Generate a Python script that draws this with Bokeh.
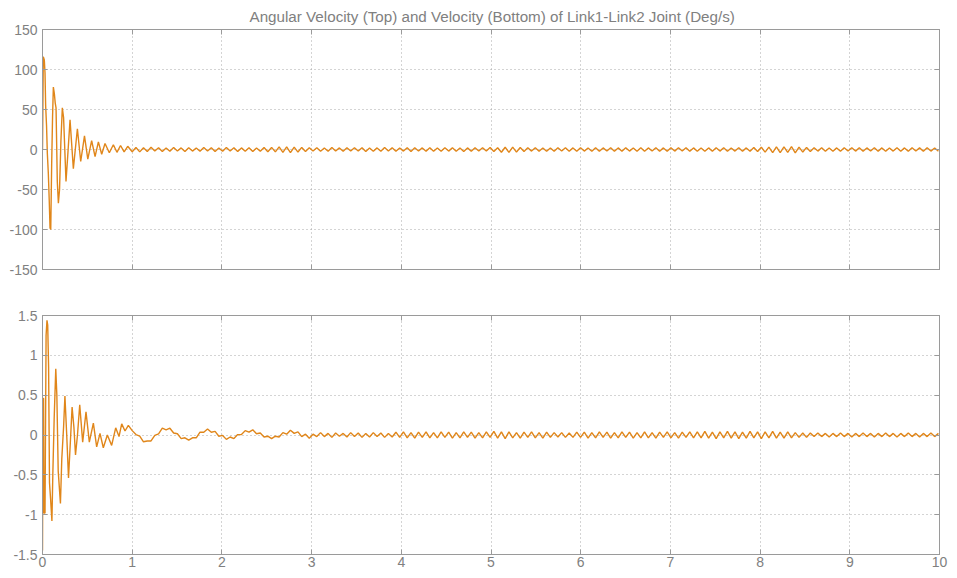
import numpy as np
from bokeh.plotting import figure
from bokeh.layouts import column
from bokeh.models import LinearAxis, FixedTicker, CustomJSTickFormatter, Range1d
from bokeh.embed import file_html
from bokeh.resources import INLINE

title_text = "Angular Velocity (Top) and Velocity (Bottom) of Link1-Link2 Joint (Deg/s)"
x_ticks = [0, 1, 2, 3, 4, 5, 6, 7, 8, 9, 10]
top_y_ticks = [-150, -100, -50, 0, 50, 100, 150]
bot_y_ticks = [-1.5, -1, -0.5, 0, 0.5, 1, 1.5]

# Angular velocity (deg/s): transient turning points
top_transient_t = [0.0, 0.004, 0.009, 0.02, 0.028, 0.035, 0.045, 0.054, 0.065, 0.075, 0.084, 0.092,
                   0.102, 0.112, 0.121, 0.132, 0.142, 0.151, 0.165, 0.177, 0.19, 0.205, 0.221, 0.235,
                   0.262, 0.28, 0.307, 0.344, 0.389, 0.426, 0.468, 0.505, 0.548, 0.586, 0.623, 0.660,
                   0.697, 0.745, 0.790, 0.83, 0.87, 0.91, 0.95]
top_transient_v = [0, 50, 116, 112, 96, 55, 30, -5, -30, -63, -98, -100,
                   -20, 40, 78, 70, 58, 52, -40, -67, -50, 10, 52, 40,
                   -40, -10, 37, -24, 26, -15, 17, -12, 11, -9, 9.5, -6,
                   7.5, -4, 6, -3.5, 5, -3, 4]
# steady-state ripple, one value every 0.042 s from t = 1.0
ripple_dt = 0.042
ripple_t0 = 1.0
top_ripple_v = [
    -2.8, 2.5, -3.0, 2.2, -2.4, 2.8, -2.0, 2.3, -2.6, 1.9,
    -2.2, 2.6, -1.8, 2.0, -2.5, 2.2, -2.0, 1.8, -2.3, 2.4,
    -1.9, 2.1, -2.4, 2.0, -2.2, 2.5, -1.8, 2.2, -2.6, 2.0,
    -2.1, 2.3, -2.5, 1.9, -2.3, 2.4, -2.8, 2.6, -3.0, 3.2,
    -3.6, 3.3, -3.8, 3.0, -3.2, 2.6, -2.5, 2.2, -2.0, 2.3,
    -2.2, 1.9, -2.1, 2.4, -1.9, 2.0, -2.3, 2.1, -1.8, 2.2,
    -2.0, 2.3, -2.4, 1.8, -2.1, 2.0, -2.2, 2.4, -1.9, 2.1,
    -2.3, 1.9, -2.0, 2.2, -2.4, 2.1, -1.8, 2.0, -2.2, 2.3,
    -2.1, 1.9, -2.3, 2.2, -2.0, 2.1, -2.2, 1.8, -2.4, 2.0,
    -2.1, 2.3, -1.9, 2.2, -2.0, 2.4, -2.6, 2.2, -3.4, 2.8,
    -3.6, 3.0, -3.2, 2.5, -2.4, 2.1, -2.0, 2.2, -2.1, 1.9,
    -2.2, 2.0, -2.3, 2.1, -1.9, 2.2, -2.1, 2.0, -2.2, 2.3,
    -2.0, 1.9, -2.1, 2.2, -2.3, 2.0, -1.9, 2.1, -2.2, 2.0,
    -2.1, 2.3, -2.0, 1.9, -2.2, 2.1, -2.3, 2.0, -1.9, 2.2,
    -2.1, 2.0, -2.2, 2.3, -2.0, 2.1, -1.9, 2.2, -2.3, 2.0,
    -2.1, 1.9, -2.2, 2.0, -2.1, 2.3, -2.0, 2.1, -2.2, 1.9,
    -2.0, 2.2, -2.1, 2.0, -2.3, 2.4, -2.6, 2.8, -3.2, 3.0,
    -3.8, 3.4, -4.0, 3.2, -3.7, 3.6, -4.1, 3.0, -3.2, 2.6,
    -2.4, 2.2, -2.0, 2.1, -2.2, 1.9, -2.1, 2.0, -2.3, 2.1,
    -1.9, 2.2, -2.0, 2.1, -2.2, 2.0, -1.9, 2.3, -2.1, 2.0,
    -2.2, 1.9, -2.0, 2.2, -2.1, 2.0, -2.3, 2.1, -1.9, 2.0,
    -2.1, 2.2, -2.0, 1.9, -2.1]

# Velocity: transient turning points
bot_transient_t = [0.0, 0.005, 0.012, 0.016, 0.028, 0.04, 0.05, 0.058, 0.068, 0.078, 0.09, 0.105,
                   0.115, 0.13, 0.148, 0.16, 0.175, 0.2, 0.215, 0.235, 0.25, 0.27, 0.29, 0.31,
                   0.33, 0.35, 0.368, 0.39, 0.415, 0.448, 0.485, 0.522, 0.567, 0.604, 0.641, 0.678,
                   0.723, 0.771, 0.816, 0.853, 0.883, 0.92, 0.957]
bot_transient_v = [-1.45, 0.46, 0.46, -0.98, -0.98, 1.25, 1.44, 1.38, 0.85, -0.6, -0.8, -1.08,
                   -0.5, 0.2, 0.83, 0.5, -0.45, -0.86, -0.3, 0.1, 0.49, 0.0, -0.54, -0.1,
                   0.35, 0.1, -0.25, 0.0, 0.38, -0.09, 0.29, -0.09, 0.15, -0.15, 0.02, -0.16,
                   0.0, -0.13, 0.09, -0.02, 0.14, 0.05, 0.12]
bot_ripple_v = [
    0.055, 0.005, -0.015, -0.085, -0.075, -0.075, -0.005, 0.015, 0.085, 0.065,
    0.085, 0.025, 0.015, -0.045, -0.035, -0.065, -0.035, -0.035, 0.035, 0.035,
    0.075, 0.035, 0.045, -0.015, -0.005, -0.055, -0.025, -0.045, 0.005, 0.005,
    0.055, 0.035, 0.065, 0.015, 0.025, -0.025, -0.015, -0.045, -0.015, -0.025,
    0.03, 0.01, 0.06, 0.02, 0.04, -0.02, 0.01, -0.04, 0.01, -0.02,
    0.03, -0.02, 0.02, -0.03, 0.025, -0.015, 0.02, -0.025, 0.03, -0.02,
    0.025, -0.03, 0.02, -0.025, 0.03, -0.02, 0.025, -0.03, 0.02, -0.025,
    0.035, -0.03, 0.04, -0.035, 0.03, -0.04, 0.035, -0.03, 0.04, -0.035,
    0.03, -0.035, 0.04, -0.03, 0.035, -0.04, 0.03, -0.035, 0.04, -0.03,
    0.035, -0.04, 0.03, -0.035, 0.04, -0.03, 0.045, -0.04, 0.04, -0.045,
    0.04, -0.035, 0.03, -0.04, 0.035, -0.03, 0.04, -0.035, 0.03, -0.04,
    0.035, -0.03, 0.03, -0.025, 0.03, -0.03, 0.025, -0.03, 0.035, -0.03,
    0.035, -0.04, 0.03, -0.035, 0.04, -0.03, 0.035, -0.04, 0.03, -0.035,
    0.04, -0.03, 0.035, -0.04, 0.03, -0.035, 0.04, -0.035, 0.03, -0.04,
    0.035, -0.03, 0.04, -0.035, 0.03, -0.04, 0.035, -0.03, 0.04, -0.035,
    0.04, -0.035, 0.045, -0.04, 0.035, -0.045, 0.04, -0.035, 0.045, -0.04,
    0.04, -0.045, 0.035, -0.04, 0.045, -0.035, 0.04, -0.045, 0.04, -0.035,
    0.045, -0.04, 0.035, -0.04, 0.04, -0.035, 0.03, -0.03, 0.025, -0.03,
    0.025, -0.02, 0.025, -0.02, 0.02, -0.025, 0.02, -0.02, 0.025, -0.02,
    0.02, -0.025, 0.02, -0.02, 0.025, -0.02, 0.02, -0.025, 0.02, -0.02,
    0.025, -0.02, 0.02, -0.025, 0.02, -0.02, 0.025, -0.02, 0.02, -0.025,
    0.02, -0.02, 0.025, -0.02, 0.02]

LINE = "#E0861A"
GRAY = "#9a9a9a"
TXT = "#808080"
FONT = "Liberation Sans"


def series(tt, tv, rv):
    rt = ripple_t0 + ripple_dt * np.arange(len(rv))
    return np.concatenate([tt, rt]), np.concatenate([tv, rv])


def tick_only_axis(ticks):
    # frame ticks without labels (labels are not drawn: no colour)
    return LinearAxis(ticker=FixedTicker(ticks=ticks), axis_line_color=GRAY,
                      major_tick_line_color=GRAY, major_tick_in=5, major_tick_out=0,
                      minor_tick_line_color=None, major_label_text_font_size="1px",
                      major_label_text_color=None, major_label_standoff=0)


def style(p, yticks, show_x_labels):
    p.background_fill_color = "white"
    p.border_fill_color = "white"
    p.outline_line_color = GRAY
    p.outline_line_width = 1
    fmt = CustomJSTickFormatter(code="return tick.toString();")
    for ax in p.axis:
        ax.axis_line_color = GRAY
        ax.major_tick_line_color = GRAY
        ax.major_tick_in = 5
        ax.major_tick_out = 0
        ax.minor_tick_line_color = None
        ax.major_label_text_color = TXT
        ax.major_label_text_font = FONT
        ax.major_label_text_font_size = "14px"
        ax.formatter = fmt
    p.xaxis.ticker = FixedTicker(ticks=x_ticks)
    p.yaxis.ticker = FixedTicker(ticks=yticks)
    p.xaxis.major_label_standoff = 2
    p.yaxis.major_label_standoff = 5
    if not show_x_labels:
        p.xaxis.major_label_text_font_size = "1px"
        p.xaxis.major_label_text_color = None
        p.xaxis.major_label_standoff = 0
    for g in (p.xgrid[0], p.ygrid[0]):
        g.grid_line_color = "#a8a8a8"
        g.grid_line_dash = "1 3"
        g.grid_line_width = 1
    p.add_layout(tick_only_axis(x_ticks), "above")
    p.add_layout(tick_only_axis(yticks), "right")


t1, v1 = series(top_transient_t, top_transient_v, top_ripple_v)
t2, v2 = series(bot_transient_t, bot_transient_v, bot_ripple_v)

p1 = figure(frame_width=897, frame_height=240, x_range=Range1d(0, 10), y_range=Range1d(-150, 150),
            output_backend="svg", toolbar_location=None, title=title_text,
            min_border_left=42, min_border_right=18, min_border_top=29, min_border_bottom=22)
p1.title.align = "left"
p1.title.offset = 207
p1.title.text_font = FONT
p1.title.text_font_size = "15.2px"
p1.title.text_font_style = "normal"
p1.title.text_color = TXT
p1.title.standoff = 9
p1.line(t1, v1, line_color=LINE, line_width=1.4)
style(p1, top_y_ticks, False)

p2 = figure(frame_width=897, frame_height=239, x_range=Range1d(0, 10), y_range=Range1d(-1.5, 1.5),
            output_backend="svg", toolbar_location=None,
            min_border_left=42, min_border_right=18, min_border_top=24, min_border_bottom=24)
p2.line(t2, v2, line_color=LINE, line_width=1.4)
style(p2, bot_y_ticks, True)

layout = column(p1, p2, spacing=0)
open("out.html", "w").write(file_html(layout, INLINE))
